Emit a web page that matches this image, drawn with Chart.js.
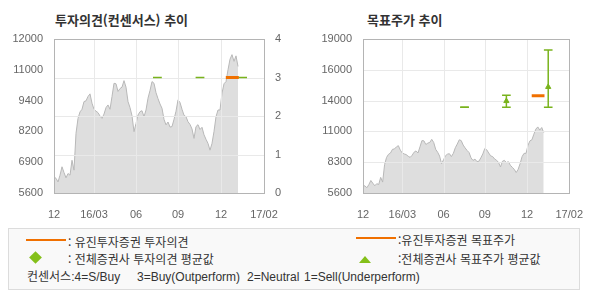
<!DOCTYPE html>
<html lang="ko">
<head>
<meta charset="utf-8">
<title>투자의견 / 목표주가 추이</title>
<script src="https://cdn.jsdelivr.net/npm/chart.js@4.4.1/dist/chart.umd.min.js"></script>
<style>
  html, body { margin: 0; padding: 0; background: #fff; }
  body { position: relative; width: 590px; height: 300px; overflow: hidden;
         font-family: 'Noto Sans CJK KR', 'Noto Sans', sans-serif; color: #333; }
  canvas { position: absolute; top: 0; }
  #opinionChart { left: 0; }
  #targetChart { left: 295px; }
  .title { position: absolute; top: 12px; font-size: 13px; line-height: 16px; font-weight: bold; color: #333; white-space: nowrap; }
  .legend-box { position: absolute; left: 8px; top: 228px; width: 572px; height: 62px; box-sizing: border-box;
                border: 1px solid #dcdcdc; background: #f9f9f9; }
  .lg { position: absolute; font-size: 12px; line-height: 14px; white-space: nowrap; color: #333; }
  .lg.note { font-family: 'Liberation Sans', 'Noto Sans CJK KR', sans-serif; }
  .sw-line { position: absolute; width: 40px; height: 2px; background: #f07000; }
  .sw-diamond { position: absolute; width: 9px; height: 9px; background: #84c01a; transform: rotate(45deg); }
  .sw-tri { position: absolute; width: 0; height: 0; border-left: 6.5px solid transparent; border-right: 6.5px solid transparent;
            border-bottom: 7px solid #84c01a; }
</style>
</head>
<body>
<div class="title" style="left:55px">투자의견(컨센서스) 추이</div>
<div class="title" style="left:367px">목표주가 추이</div>
<canvas id="opinionChart" width="295" height="220"></canvas>
<canvas id="targetChart" width="295" height="220"></canvas>

<div class="legend-box"></div>
<div class="sw-line" style="left:26px; top:239px"></div>
<div class="lg" style="left:68px; top:235px">: 유진투자증권 투자의견</div>
<div class="sw-diamond" style="left:30.5px; top:252.5px"></div>
<div class="lg" style="left:68px; top:252px">: 전체증권사 투자의견 평균값</div>
<div class="sw-line" style="left:356px; top:237px"></div>
<div class="lg" style="left:398px; top:233px">:유진투자증권 목표주가</div>
<div class="sw-tri" style="left:358.5px; top:256px"></div>
<div class="lg" style="left:398px; top:252px">:전체증권사 목표주가 평균값</div>
<div class="lg note" style="left:27px; top:270px">컨센서스:4=S/Buy</div>
<div class="lg note" style="left:137px; top:270px">3=Buy(Outperform)</div>
<div class="lg note" style="left:247px; top:270px">2=Neutral</div>
<div class="lg note" style="left:304px; top:270px">1=Sell(Underperform)</div>

<script>
// 주가(원) — 가로축 인덱스 0..92, 15/12 ~ 17/01
const priceValues = [
  6270, 6210, 6060, 6340, 6690, 6450, 6230, 6410, 6340, 6960,
  6550, 8080, 8700, 8970, 9080, 9400, 9430, 9610, 9720, 9330,
  9080, 9000, 8940, 8800, 8700, 8880, 9150, 9260, 9080, 9610,
  10160, 10140, 9820, 9940, 10000, 10270, 10000, 9400, 9150, 8810,
  8150, 8490, 8840, 8980, 9020, 8770, 9050, 9540, 9860, 10230,
  10160, 9770, 9520, 9300, 9120, 8660, 8430, 8550, 8340, 8360,
  8660, 9000, 9470, 9360, 9080, 8830, 8770, 8560, 8450, 8260,
  7870, 8360, 8440, 8240, 8330, 8020, 7830, 7660, 7380, 7660,
  8160, 8770, 9050, 9050, 9750, 10140, 10230, 10720, 11160, 11350,
  11070, 11300, 10860,
];

// 가로축 눈금
const xTickPos = [0, 20, 41, 62, 83.5, 105];
const xTickLabels = ['12', '16/03', '06', '09', '12', '17/02'];

// 세로축 눈금 (라벨은 두 자리 반올림)
const opinionPriceTicks = [5600, 6880, 8160, 9440, 10720, 12000];
const opinionPriceLabels = ['5600', '6900', '8200', '9400', '11000', '12000'];
const targetPriceTicks = [5600, 8280, 10960, 13640, 16320, 19000];
const targetPriceLabels = ['5600', '8300', '11000', '14000', '16000', '19000'];

// 전체증권사 컨센서스 (집계 시점별)
const avgX = [51.7, 73, 94.3];
const opinionAvg = [3, 3, 3];
const targetAvg = [13060, 13600, 14830];
const targetHigh = [13060, 14110, 18040];
const targetLow = [13060, 13060, 13060];

// 유진투자증권
const yujinX = [85.9, 92.4];
const yujinOpinion = [3, 3];
const yujinTarget = [14070, 14070];

const ORANGE = '#f07000';
const GREEN = '#79b31c';
const CAP = 2.2; // 평균값 표시 반폭 (인덱스 단위)
const TICK_FONT = { family: "'Liberation Sans', Arial, sans-serif", size: 11 };

function segs(xs, ys) {
  const out = [];
  xs.forEach((x, i) => { out.push({ x: x - CAP, y: ys[i] }, { x: x + CAP, y: ys[i] }, { x: x + CAP, y: null }); });
  return out;
}

function priceDataset(yAxisID) {
  return {
    label: '주가', yAxisID, order: 10,
    data: priceValues.map((v, i) => ({ x: i, y: v })),
    borderColor: '#b8b8b8', borderWidth: 1, backgroundColor: '#dedede',
    fill: 'start', pointRadius: 0, tension: 0,
  };
}

// 주가 영역 위에 격자, 마지막에 테두리
const gridFrame = {
  id: 'gridFrame',
  afterDatasetDraw(chart, args, opts) {
    if (chart.data.datasets[args.index].label !== '주가') return;
    const { ctx, chartArea: a } = chart;
    const xs = chart.scales.x, hs = chart.scales[opts.hScale];
    ctx.save();
    ctx.strokeStyle = '#e9e9e9';
    ctx.lineWidth = 1;
    ctx.beginPath();
    xs.ticks.slice(1, -1).forEach((t) => {
      const px = Math.round(xs.getPixelForValue(t.value)) + 0.5;
      ctx.moveTo(px, a.top); ctx.lineTo(px, a.bottom);
    });
    hs.ticks.slice(1, -1).forEach((t) => {
      const py = Math.round(hs.getPixelForValue(t.value)) + 0.5;
      ctx.moveTo(a.left, py); ctx.lineTo(a.right, py);
    });
    ctx.stroke();
    ctx.restore();
  },
  afterDatasetsDraw(chart) {
    const { ctx, chartArea: a } = chart;
    ctx.save();
    ctx.strokeStyle = '#b4b4b4';
    ctx.lineWidth = 1;
    ctx.strokeRect(Math.round(a.left) + 0.5, Math.round(a.top) + 0.5,
      Math.round(a.right - a.left), Math.round(a.bottom - a.top));
    ctx.restore();
  },
};

function xScale() {
  return {
    type: 'linear', min: 0, max: 105,
    afterBuildTicks: (s) => { s.ticks = xTickPos.map((v) => ({ value: v })); },
    afterFit: (s) => { s.height = 27; },
    grid: { display: false }, border: { display: false },
    ticks: { autoSkip: false, maxRotation: 0, padding: 7, color: '#666', font: TICK_FONT,
      callback: (v, i) => xTickLabels[i] },
  };
}

function priceScale(min, max, vals, labels, width) {
  return {
    type: 'linear', position: 'left', min, max,
    afterBuildTicks: (s) => { s.ticks = vals.map((v) => ({ value: v })); },
    afterFit: (s) => { s.width = width; },
    grid: { display: false }, border: { display: false },
    ticks: { padding: 3, color: '#666', font: TICK_FONT, callback: (v, i) => labels[i] },
  };
}

const common = {
  responsive: false, animation: false, events: [], devicePixelRatio: 1,
  plugins: { legend: { display: false }, tooltip: { enabled: false } },
  elements: { point: { radius: 0 } },
};

new Chart(document.getElementById('opinionChart'), {
  type: 'line',
  data: {
    datasets: [
      { label: '유진투자증권 투자의견', yAxisID: 'y2', order: 0, data: yujinX.map((x, i) => ({ x, y: yujinOpinion[i] })),
        borderColor: ORANGE, borderWidth: 3, pointRadius: 0 },
      { label: '전체증권사 투자의견 평균값', yAxisID: 'y2', order: 1, data: segs(avgX, opinionAvg),
        borderColor: GREEN, borderWidth: 1.5, pointRadius: 0, spanGaps: false },
      priceDataset('y'),
    ],
  },
  options: {
    ...common,
    layout: { padding: { top: 39, left: 0, right: 0, bottom: 0 } },
    plugins: { ...common.plugins, gridFrame: { hScale: 'y2' } },
    scales: {
      x: xScale(),
      y: priceScale(5600, 12000, opinionPriceTicks, opinionPriceLabels, 54),
      y2: {
        type: 'linear', position: 'right', min: 0, max: 4,
        ticks: { stepSize: 1, padding: 3, color: '#666', font: TICK_FONT },
        afterFit: (s) => { s.width = 31; },
        grid: { display: false }, border: { display: false },
      },
    },
  },
  plugins: [gridFrame],
});

new Chart(document.getElementById('targetChart'), {
  type: 'line',
  data: {
    datasets: [
      { label: '유진투자증권 목표주가', order: 0, data: yujinX.map((x, i) => ({ x, y: yujinTarget[i] })),
        borderColor: ORANGE, borderWidth: 3, pointRadius: 0 },
      { label: '평균값', order: 1, data: avgX.map((x, i) => ({ x, y: targetAvg[i] })), showLine: false,
        pointStyle: 'triangle', backgroundColor: GREEN, borderColor: GREEN, borderWidth: 1,
        pointRadius: (c) => (targetHigh[c.dataIndex] > targetLow[c.dataIndex] ? 3 : 0) },
      { label: '범위', order: 2, spanGaps: false, borderColor: GREEN, borderWidth: 1.5, pointRadius: 0,
        data: avgX.flatMap((x, i) => [{ x, y: targetLow[i] }, { x, y: targetHigh[i] }, { x, y: null }]) },
      { label: '최고', order: 2, spanGaps: false, borderColor: GREEN, borderWidth: 1.5, pointRadius: 0, data: segs(avgX, targetHigh) },
      { label: '최저', order: 2, spanGaps: false, borderColor: GREEN, borderWidth: 1.5, pointRadius: 0, data: segs(avgX, targetLow) },
      priceDataset('y'),
    ],
  },
  options: {
    ...common,
    layout: { padding: { top: 39, left: 0, right: 17, bottom: 0 } },
    plugins: { ...common.plugins, gridFrame: { hScale: 'y' } },
    scales: {
      x: xScale(),
      y: priceScale(5600, 19000, targetPriceTicks, targetPriceLabels, 68),
    },
  },
  plugins: [gridFrame],
});
</script>
</body>
</html>
